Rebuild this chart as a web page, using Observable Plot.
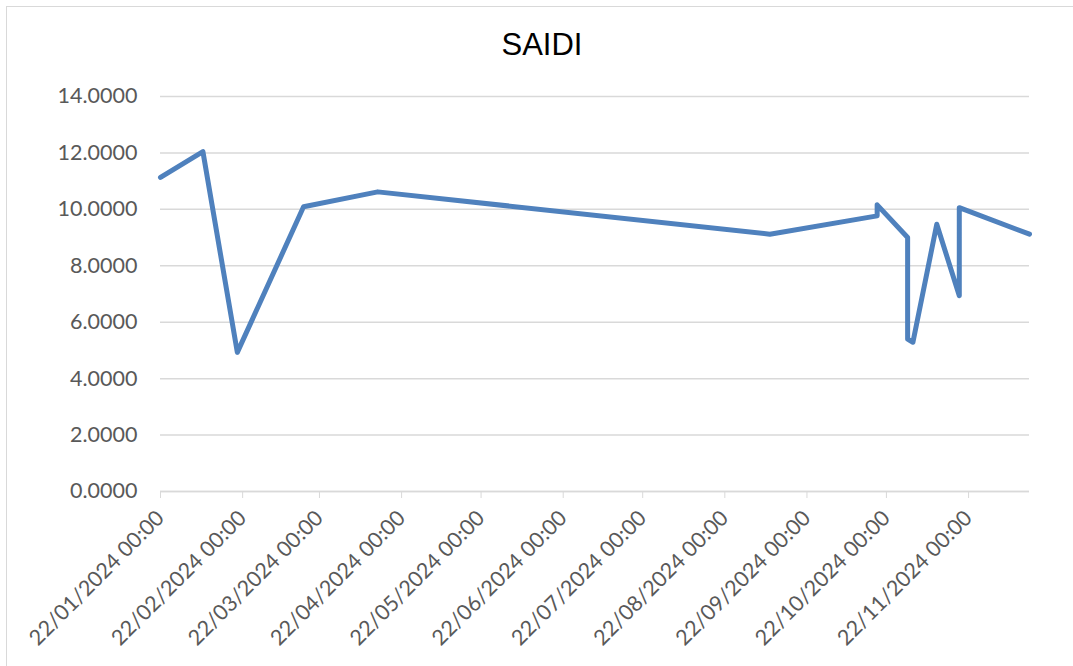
<!DOCTYPE html>
<html><head><meta charset="utf-8">
<script src="https://cdn.jsdelivr.net/npm/d3@7"></script>
<script src="https://cdn.jsdelivr.net/npm/@observablehq/plot@0.6"></script>
<style>
body{margin:0;background:#fff;}
#wrap{position:relative;width:1073px;height:666px;overflow:hidden;background:#fff;}
#frame{position:absolute;left:6px;top:6px;width:1200px;height:800px;border-left:1.5px solid #d9d9d9;border-top:1.5px solid #d9d9d9;box-sizing:border-box;}
#title{position:absolute;left:0;top:29px;width:1084px;text-align:center;font-family:"Liberation Sans",Arial,sans-serif;font-size:31px;line-height:31px;color:#000;}
#chart{position:absolute;left:0;top:0;}
</style>
</head><body>
<div id="wrap"><div id="frame"></div><div id="chart"></div><div id="title">SAIDI</div></div>
<script>
const title = "SAIDI";
const dates = ["2024-01-22","2024-02-07","2024-02-20","2024-03-16","2024-04-13","2024-09-08","2024-10-18T12:00Z","2024-10-18T12:00Z","2024-10-30","2024-10-30","2024-11-01","2024-11-10","2024-11-18T12:00Z","2024-11-18T12:00Z","2024-12-15"];
const values = [11.13,12.05,4.93,10.09,10.62,9.12,9.77,10.16,9.00,5.40,5.29,9.47,6.94,10.06,9.12];
const xTickDates = ["2024-01-22","2024-02-22","2024-03-22","2024-04-22","2024-05-22","2024-06-22","2024-07-22","2024-08-22","2024-09-22","2024-10-22","2024-11-22"];
const yTicks = [0,2,4,6,8,10,12,14];
const xDomain = ["2024-01-22","2024-12-15"];

const data = dates.map((d,i)=>({date:new Date(d), value:values[i]}));
const xt = xTickDates.map(d=>new Date(d));

const chart = Plot.plot({
  width:1073, height:666,
  marginLeft:160, marginRight:44, marginTop:96, marginBottom:175,
  style:{fontFamily:"Lato, 'Open Sans', sans-serif", background:"transparent"},
  x:{type:"utc", domain:xDomain.map(d=>new Date(d))},
  y:{domain:[0,14]},
  marks:[
    Plot.gridY(yTicks,{stroke:"#d9d9d9", strokeOpacity:1, strokeWidth:1.5}),
    Plot.axisY(yTicks,{tickSize:0, tickPadding:23, tickFormat:d3.format(".4f"), fontSize:21.5, fill:"#595959", label:null}),
    Plot.ruleY([0],{stroke:"#d9d9d9", strokeWidth:1.5}),
    Plot.axisX(xt,{tickSize:7, stroke:"#d9d9d9", strokeOpacity:1, tickRotate:-45, tickPadding:16, tickFormat:d3.utcFormat("%d/%m/%Y %H:%M"), fontSize:21.5, fill:"#595959", label:null}),
    Plot.lineY(data,{x:"date", y:"value", stroke:"#4f81bd", strokeWidth:5, strokeLinejoin:"round", strokeLinecap:"round"})
  ]
});
document.getElementById("chart").appendChild(chart);
</script>
</body></html>
